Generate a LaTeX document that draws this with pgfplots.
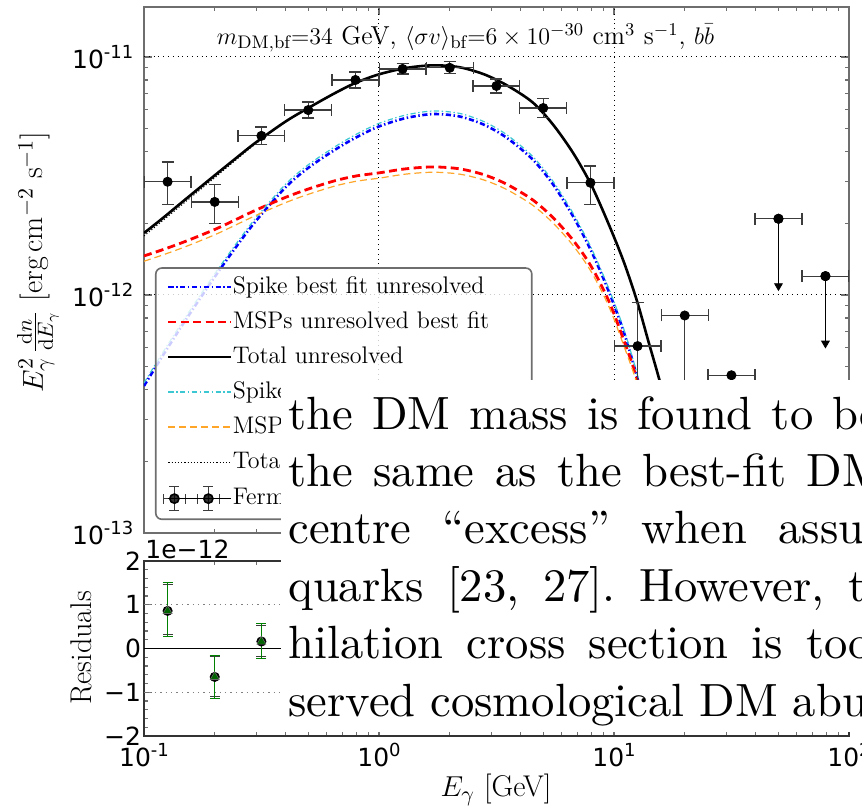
\documentclass[border=0pt]{standalone}
\usepackage{fontspec}
\usepackage{pgfplots}
\usepackage{pgfplotstable}
\pgfplotsset{compat=1.18}
\newfontfamily\dejavu{DejaVu Sans}
\newfontfamily\lmten{lmroman10-regular}[Extension=.otf]
\definecolor{mcyan}{RGB}{60,200,210}
\definecolor{morange}{RGB}{255,165,40}
\definecolor{spinegray}{RGB}{110,110,110}
\definecolor{egray}{RGB}{60,60,60}
\definecolor{rgreen}{RGB}{0,128,0}
\definecolor{rdgreen}{RGB}{0,100,0}

\pgfplotstableread{
E F xm xp ym yp
0.126 2.99e-12 0.026 0.0326 0.60e-12 0.63e-12
0.200 2.46e-12 0.0411 0.0518 0.47e-12 0.44e-12
0.316 4.66e-12 0.065 0.0818 0.39e-12 0.42e-12
0.500 5.98e-12 0.103 0.129 0.44e-12 0.48e-12
0.794 8.00e-12 0.163 0.206 0.59e-12 0.64e-12
1.26 8.90e-12 0.259 0.326 0.43e-12 0.45e-12
2.00 9.00e-12 0.411 0.518 0.51e-12 0.54e-12
3.16 7.55e-12 0.650 0.818 0.49e-12 0.53e-12
5.00 6.10e-12 1.03 1.29 0.55e-12 0.61e-12
7.94 2.96e-12 1.63 2.06 0.57e-12 0.52e-12
12.6 6.10e-13 2.59 3.26 0.41e-12 0.32e-12
}\fermiA
\pgfplotstableread{
E F xm xp ym
20.0 8.2e-13 4.11 5.18 0.39e-12
31.6 4.6e-13 6.50 8.18 0.30e-12
}\fermiB
\pgfplotstableread{
E F xm xp ym
50.1 2.09e-12 10.3 13.0 1.01e-12
79.4 1.20e-12 16.3 20.6 0.58e-12
}\fermiUL
\pgfplotstableread{
E R ym yp
0.126 0.86 0.58 0.65
0.200 -0.65 0.49 0.49
0.316 0.16 0.39 0.42
}\resgreen
\pgfplotstableread{
E R ym yp
0.126 0.86 0.53 0.61
0.200 -0.65 0.44 0.46
0.316 0.16 0.35 0.37
}\resgray

\tikzset{
  dashdotS/.style={dash pattern=on 2.6pt off 1.3pt on 0.7pt off 1.3pt},
}
\newcommand{\tlfont}{\dejavu\fontsize{12.5}{14}\selectfont}
\newcommand{\sups}[1]{\raisebox{0.42em}{\fontsize{9}{10}\selectfont #1}}

\begin{document}
\begin{tikzpicture}
\useasboundingbox (-72pt,-138pt) rectangle (359pt,266.5pt);
\clip (-72pt,-138pt) rectangle (359pt,266.5pt);
\begin{axis}[name=main, at={(0pt,0pt)}, anchor=south west, scale only axis,
  width=352.5pt, height=263pt,
  xmode=log, ymode=log, xmin=0.1, xmax=100, ymin=1e-13, ymax=1.62e-11,
  xtick={0.1,1,10,100}, xticklabels={},
  minor xtick={0.2,0.3,0.4,0.5,0.6,0.7,0.8,0.9,2,3,4,5,6,7,8,9,20,30,40,50,60,70,80,90},
  ytick={1e-13,1e-12,1e-11},
  yticklabels={{10\sups{-13}},{10\sups{-12}},{10\sups{-11}}},
  minor ytick={2e-13,3e-13,4e-13,5e-13,6e-13,7e-13,8e-13,9e-13,2e-12,3e-12,4e-12,5e-12,6e-12,7e-12,8e-12,9e-12},
  extra x ticks={1,10}, extra x tick labels={}, extra x tick style={grid=major, major tick length=0pt},
  extra y ticks={1e-12,1e-11}, extra y tick labels={}, extra y tick style={grid=major, major tick length=0pt},
  major grid style={black, dotted, line width=0.5pt},
  axis line style={spinegray, line width=0.8pt},
  tick style={spinegray, line width=0.6pt},
  major tick length=4pt, minor tick length=2pt,
  yticklabel style={font=\tlfont, xshift=-1.8pt},
  legend image code/.code={\draw[#1] (0pt,0pt) -- (20.5pt,0pt); \path (0pt,0pt) -- (31.5pt,0pt);},
  legend cell align=left,
  legend style={at={(0.0156,0.0247)}, anchor=south west, draw=spinegray, line width=0.8pt,
    rounded corners=3pt, fill=white, fill opacity=0.8, text opacity=1,
    font=\fontsize{12}{14}\selectfont, inner xsep=3.5pt, inner ysep=4pt, row sep=6.5pt,
    column sep=0pt,
    nodes={inner sep=0pt, text height=8.5pt, text depth=2.5pt}},
]
% Spike best fit unresolved
\addplot[blue, line width=1.3pt, dashdotS, smooth, forget plot] coordinates {
(0.1,4.15e-13) (0.12,5.55e-13) (0.15,7.82e-13) (0.2,1.191e-12) (0.25,1.622e-12) (0.3,2.051e-12)
(0.4,2.831e-12) (0.5,3.420e-12) (0.65,4.074e-12) (0.8,4.592e-12) (1.0,5.105e-12) (1.3,5.534e-12)
(1.7,5.754e-12) (2.2,5.623e-12) (2.8,5.188e-12) (3.5,4.571e-12) (4.5,3.715e-12) (5.5,2.917e-12)
(6.7,2.138e-12) (8,1.531e-12) (9.5,1.035e-12) (11,7.00e-13) (12.5,4.57e-13) (14,2.95e-13)
(16,1.58e-13) (18,8.7e-14)};
% MSPs unresolved best fit
\addplot[red, line width=1.4pt, dash pattern=on 4pt off 2.2pt, smooth, forget plot] coordinates {
(0.1,1.459e-12) (0.12,1.549e-12) (0.15,1.679e-12) (0.2,1.884e-12) (0.25,2.089e-12) (0.3,2.275e-12)
(0.4,2.570e-12) (0.5,2.786e-12) (0.65,3.020e-12) (0.8,3.162e-12) (1.0,3.258e-12) (1.3,3.388e-12)
(1.7,3.451e-12) (2.2,3.388e-12) (2.8,3.199e-12) (3.5,2.917e-12) (4.5,2.512e-12) (5.5,2.113e-12)
(6.7,1.698e-12) (8,1.318e-12) (9.5,9.44e-13) (11,6.46e-13) (12.5,4.47e-13) (14,2.75e-13)
(16,1.32e-13) (18,6.3e-14)};
% Total unresolved
\addplot[black, line width=1.3pt, smooth, forget plot] coordinates {
(0.1,1.82e-12) (0.12,2.10e-12) (0.15,2.52e-12) (0.2,3.18e-12) (0.25,3.80e-12) (0.3,4.38e-12)
(0.4,5.35e-12) (0.5,6.10e-12) (0.65,7.05e-12) (0.8,7.80e-12) (1.0,8.45e-12) (1.3,8.98e-12)
(1.7,9.22e-12) (2.2,9.05e-12) (2.8,8.45e-12) (3.5,7.60e-12) (4.5,6.45e-12) (5.5,5.20e-12)
(6.7,3.95e-12) (8,2.90e-12) (9.5,1.98e-12) (11,1.38e-12) (12.5,9.5e-13) (14,6.4e-13)
(16,4.0e-13) (18,2.35e-13) (20,1.4e-13) (22,8.5e-14)};
% Spike (thin)
\addplot[mcyan, line width=0.6pt, dashdotS, smooth, forget plot] coordinates {
(0.1,4.27e-13) (0.12,5.72e-13) (0.15,8.05e-13) (0.2,1.227e-12) (0.25,1.671e-12) (0.3,2.113e-12)
(0.4,2.916e-12) (0.5,3.523e-12) (0.65,4.196e-12) (0.8,4.730e-12) (1.0,5.258e-12) (1.3,5.700e-12)
(1.7,5.927e-12) (2.2,5.792e-12) (2.8,5.344e-12) (3.5,4.708e-12) (4.5,3.826e-12) (5.5,3.005e-12)
(6.7,2.202e-12) (8,1.577e-12) (9.5,1.066e-12) (11,7.21e-13) (12.5,4.71e-13) (14,3.04e-13)
(16,1.63e-13) (18,9.0e-14)};
% MSPs (thin)
\addplot[morange, line width=0.6pt, dash pattern=on 3.5pt off 2pt, smooth, forget plot] coordinates {
(0.1,1.386e-12) (0.12,1.472e-12) (0.15,1.595e-12) (0.2,1.790e-12) (0.25,1.985e-12) (0.3,2.161e-12)
(0.4,2.442e-12) (0.5,2.647e-12) (0.65,2.869e-12) (0.8,3.004e-12) (1.0,3.095e-12) (1.3,3.219e-12)
(1.7,3.278e-12) (2.2,3.219e-12) (2.8,3.039e-12) (3.5,2.771e-12) (4.5,2.386e-12) (5.5,2.007e-12)
(6.7,1.613e-12) (8,1.252e-12) (9.5,8.97e-13) (11,6.14e-13) (12.5,4.25e-13) (14,2.61e-13)
(16,1.25e-13) (18,6.0e-14)};
% Total (thin dotted)
\addplot[black, line width=0.5pt, dash pattern=on 0.6pt off 1pt, smooth, forget plot] coordinates {
(0.1,1.77e-12) (0.12,2.05e-12) (0.15,2.46e-12) (0.2,3.11e-12) (0.25,3.74e-12) (0.3,4.33e-12)
(0.4,5.35e-12) (0.5,6.10e-12) (0.65,7.05e-12) (0.8,7.80e-12) (1.0,8.45e-12) (1.3,8.98e-12)
(1.7,9.22e-12) (2.2,9.05e-12) (2.8,8.45e-12) (3.5,7.60e-12) (4.5,6.45e-12) (5.5,5.20e-12)
(6.7,3.95e-12) (8,2.90e-12) (9.5,1.98e-12) (11,1.38e-12) (12.5,9.5e-13) (14,6.4e-13)
(16,4.0e-13) (18,2.35e-13) (20,1.4e-13) (22,8.5e-14)};
% Fermi data
\addplot[only marks, mark=*, mark size=2.3pt, black, forget plot,
  error bars/.cd, x dir=both, x explicit, y dir=both, y explicit,
  error bar style={egray, line width=0.6pt},
  error mark options={egray, mark size=3pt, line width=0.6pt, rotate=90}]
  table[x=E, y=F, x error minus=xm, x error plus=xp, y error minus=ym, y error plus=yp] {\fermiA};
\addplot[only marks, mark=*, mark size=2.3pt, black, forget plot,
  error bars/.cd, x dir=both, x explicit, y dir=minus, y explicit,
  error bar style={egray, line width=0.6pt},
  error mark options={egray, mark size=3pt, line width=0.6pt, rotate=90}]
  table[x=E, y=F, x error minus=xm, x error plus=xp, y error minus=ym] {\fermiB};
\addplot[only marks, mark=*, mark size=2.3pt, black, forget plot,
  error bars/.cd, x dir=both, x explicit,
  error bar style={egray, line width=0.6pt},
  error mark options={egray, mark size=3pt, line width=0.6pt, rotate=90}]
  table[x=E, y=F, x error minus=xm, x error plus=xp] {\fermiUL};
\addplot[only marks, mark=*, mark size=2.3pt, black, forget plot,
  error bars/.cd, y dir=minus, y explicit,
  error bar style={black, line width=0.7pt},
  error mark=triangle*, error mark options={black, fill=black, mark size=2.2pt, rotate=-90}]
  table[x=E, y=F, y error minus=ym] {\fermiUL};
% legend
\addlegendimage{blue, line width=1.3pt, dashdotS}
\addlegendentry{Spike best fit unresolved}
\addlegendimage{red, line width=1.4pt, dash pattern=on 4pt off 2.2pt}
\addlegendentry{MSPs unresolved best fit}
\addlegendimage{black, line width=1.3pt}
\addlegendentry{Total unresolved}
\addlegendimage{mcyan, line width=0.6pt, dashdotS}
\addlegendentry{Spike best fit total}
\addlegendimage{morange, line width=0.6pt, dash pattern=on 3.5pt off 2pt}
\addlegendentry{MSPs total best fit}
\addlegendimage{black, line width=0.5pt, dash pattern=on 0.6pt off 1pt}
\addlegendentry{Total}
\addlegendimage{legend image code/.code={
  \draw[egray, line width=0.6pt, rounded corners=0pt]
    (-2.5pt,0pt) -- (8.5pt,0pt) (-2.5pt,-2.5pt) -- (-2.5pt,2.5pt) (8.5pt,-2.5pt) -- (8.5pt,2.5pt)
    (3pt,-6pt) -- (3pt,6pt) (0.5pt,-6pt) -- (5.5pt,-6pt) (0.5pt,6pt) -- (5.5pt,6pt)
    (14.5pt,0pt) -- (25.5pt,0pt) (14.5pt,-2.5pt) -- (14.5pt,2.5pt) (25.5pt,-2.5pt) -- (25.5pt,2.5pt)
    (20pt,-6pt) -- (20pt,6pt) (17.5pt,-6pt) -- (22.5pt,-6pt) (17.5pt,6pt) -- (22.5pt,6pt);
  \fill[black] (3pt,0pt) circle (2.3pt) (20pt,0pt) circle (2.3pt);
  \path (0pt,0pt) -- (31.5pt,0pt);}}
\addlegendentry{\makebox[146pt][l]{Fermi data}}
\node[font=\fontsize{13}{15}\selectfont] at (rel axis cs:0.456,0.941)
  {$m_{\mathrm{DM,bf}}{=}34$ GeV, $\langle\sigma v\rangle_{\mathrm{bf}}{=}6\times10^{-30}$ cm$^3$ s$^{-1}$, $b\bar{b}$};
\end{axis}

\begin{axis}[name=res, at={(0pt,-14pt)}, anchor=north west, scale only axis,
  width=352.5pt, height=87.5pt,
  xmode=log, xmin=0.1, xmax=100, ymin=-2, ymax=2,
  xtick={0.1,1,10,100},
  xticklabels={{10\sups{-1}},{10\sups{0}},{10\sups{1}},{10\sups{2}}},
  minor xtick={0.2,0.3,0.4,0.5,0.6,0.7,0.8,0.9,2,3,4,5,6,7,8,9,20,30,40,50,60,70,80,90},
  ytick={-2,-1,0,1,2}, yticklabels={−2,−1,0,1,2}, minor y tick num=4,
  axis line style={black!80, line width=0.8pt},
  tick style={spinegray, line width=0.6pt},
  major tick length=4pt, minor tick length=2pt,
  ticklabel style={font=\tlfont},
  yticklabel style={xshift=2pt},
]
\addplot[black, line width=0.8pt] coordinates {(0.1,0) (100,0)};
\addplot[black!50, line width=0.7pt, dotted] coordinates {(0.1,1) (100,1)};
\addplot[black!50, line width=0.7pt, dotted] coordinates {(0.1,-1) (100,-1)};
\addplot[only marks, mark=*, mark size=2.3pt, black,
  error bars/.cd, y dir=both, y explicit,
  error bar style={egray, line width=0.5pt},
  error mark options={egray, mark size=2.5pt, line width=0.5pt, rotate=90}]
  table[x=E, y=R, y error minus=ym, y error plus=yp] {\resgray};
\addplot[only marks, mark=triangle*, mark size=2.6pt, mark options={fill=rdgreen, draw=black!60, line width=0.3pt},
  error bars/.cd, y dir=both, y explicit,
  error bar style={rgreen, line width=0.6pt},
  error mark options={rgreen, mark size=2.5pt, line width=0.6pt, rotate=90}]
  table[x=E, y=R, y error minus=ym, y error plus=yp] {\resgreen};
\end{axis}

\node[anchor=base west, inner sep=0pt, font=\tlfont] at (0.5pt,-12.5pt) {1e−12};
\node[rotate=90, font=\fontsize{15}{17}\selectfont] at (-53pt,135.5pt)
  {$E_\gamma^2\,\frac{\mathrm{d}n}{\mathrm{d}E_\gamma}$ [erg$\,$cm$^{-2}$\ s$^{-1}$]};
\node[rotate=90, font=\fontsize{15}{17}\selectfont] at (-31.5pt,-57.5pt) {Residuals};
\node[font=\fontsize{15}{17}\selectfont] at (176pt,-128.5pt) {$E_\gamma$ [GeV]};

% overlaid page text
\fill[white] (68.5pt,-99.5pt) rectangle (365pt,76.5pt);
\begin{scope}[every node/.style={anchor=base west, inner sep=0pt, font=\lmten\fontsize{23.3}{28.7}\selectfont\frenchspacing}]
\node at (72pt,52pt) {\spaceskip=9.5pt the DM mass is found to be roughly};
\node at (72pt,23.3pt) {\spaceskip=10.2pt the same as the best-fit DM mass};
\node at (72pt,-5.4pt) {\spaceskip=15.6pt centre “excess” when assuming};
\node at (72pt,-34.1pt) {\spaceskip=11.8pt quarks [23, 27]. However, the};
\node at (72pt,-62.8pt) {\spaceskip=11.5pt hilation cross section is too};
\node at (72pt,-91.5pt) {\spaceskip=7.5pt served cosmological DM abundance};
\end{scope}
\end{tikzpicture}
\end{document}
